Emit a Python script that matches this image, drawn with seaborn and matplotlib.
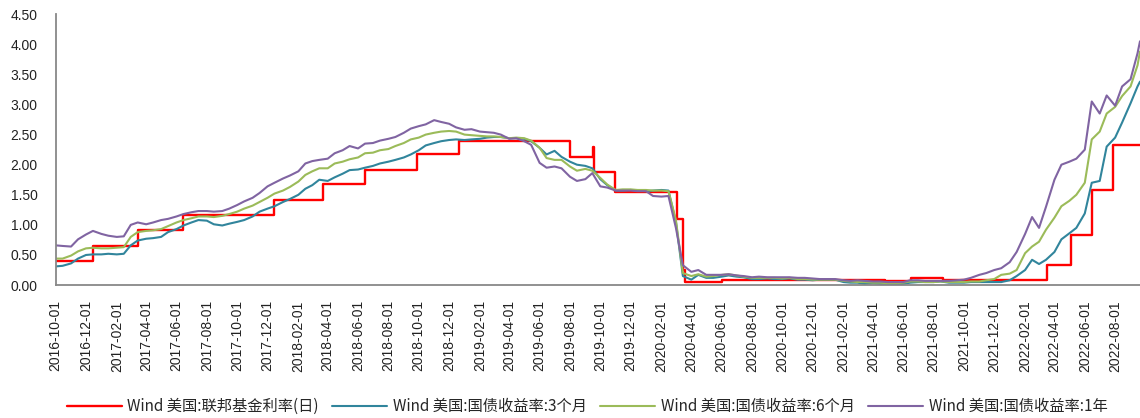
import matplotlib
matplotlib.use("Agg")
import matplotlib.pyplot as plt
import matplotlib.dates as mdates
import matplotlib.ticker as mticker
import numpy as np
import pandas as pd
import seaborn as sns

# semi-monthly observation dates (1st and 15th), plus the last print
dates = pd.date_range("2016-10-01", "2022-09-15", freq="SMS").append(
    pd.DatetimeIndex(["2022-09-20"]))

# 美国国债收益率:3个月
tsy_3m = [
    # 2016 Oct-Dec
    0.31, 0.32, 0.36, 0.44, 0.50, 0.51,
    # 2017
    0.51, 0.52, 0.51, 0.52, 0.66, 0.74, 0.77, 0.78, 0.80, 0.88, 0.93, 0.99,
    1.04, 1.08, 1.07, 1.01, 0.99, 1.02, 1.05, 1.08, 1.14, 1.22, 1.27, 1.31,
    # 2018
    1.38, 1.43, 1.50, 1.60, 1.66, 1.75, 1.73, 1.79, 1.85, 1.91, 1.92, 1.95,
    1.98, 2.02, 2.05, 2.08, 2.12, 2.17, 2.24, 2.32, 2.36, 2.39, 2.41, 2.42,
    # 2019
    2.41, 2.42, 2.43, 2.45, 2.46, 2.46, 2.44, 2.44, 2.43, 2.39, 2.28, 2.17,
    2.23, 2.13, 2.05, 2.00, 1.98, 1.94, 1.76, 1.66, 1.57, 1.57, 1.58, 1.57,
    # 2020
    1.56, 1.57, 1.58, 1.57, 1.05, 0.15, 0.09, 0.17, 0.12, 0.12, 0.14, 0.16,
    0.14, 0.13, 0.10, 0.10, 0.11, 0.10, 0.10, 0.11, 0.09, 0.09, 0.08, 0.09,
    # 2021
    0.09, 0.09, 0.05, 0.04, 0.04, 0.02, 0.03, 0.02, 0.02, 0.01, 0.02, 0.04,
    0.05, 0.05, 0.05, 0.06, 0.04, 0.04, 0.04, 0.05, 0.05, 0.05, 0.05, 0.05,
    # 2022 Jan-Sep
    0.08, 0.15, 0.25, 0.42, 0.35, 0.42, 0.55, 0.76, 0.86, 0.95, 1.19, 1.70,
    1.73, 2.30, 2.45, 2.70, 3.02, 3.30, 3.38,
]

# 美国国债收益率:6个月
tsy_6m = [
    0.44, 0.44, 0.49, 0.56, 0.61, 0.62,
    0.61, 0.61, 0.62, 0.63, 0.80, 0.88, 0.90, 0.91, 0.93, 0.98, 1.04, 1.08,
    1.11, 1.14, 1.14, 1.13, 1.15, 1.18, 1.22, 1.27, 1.32, 1.38, 1.45, 1.52,
    1.57, 1.63, 1.72, 1.83, 1.89, 1.94, 1.94, 2.02, 2.05, 2.09, 2.12, 2.19,
    2.20, 2.24, 2.26, 2.31, 2.36, 2.42, 2.45, 2.50, 2.53, 2.55, 2.56, 2.55,
    2.50, 2.49, 2.48, 2.47, 2.47, 2.46, 2.44, 2.45, 2.44, 2.40, 2.28, 2.11,
    2.08, 2.08, 1.97, 1.90, 1.93, 1.90, 1.78, 1.67, 1.58, 1.59, 1.59, 1.58,
    1.58, 1.57, 1.57, 1.56, 1.08, 0.20, 0.15, 0.18, 0.14, 0.15, 0.17, 0.18,
    0.16, 0.14, 0.12, 0.12, 0.12, 0.12, 0.11, 0.12, 0.10, 0.10, 0.09, 0.09,
    0.09, 0.09, 0.07, 0.06, 0.05, 0.05, 0.04, 0.04, 0.03, 0.03, 0.04, 0.06,
    0.06, 0.05, 0.05, 0.06, 0.05, 0.05, 0.05, 0.06, 0.06, 0.08, 0.10, 0.17,
    0.19, 0.25, 0.53, 0.64, 0.72, 0.92, 1.12, 1.31, 1.40, 1.50, 1.70, 2.42,
    2.55, 2.85, 2.96, 3.14, 3.30, 3.65, 3.88,
]

# 美国国债收益率:1年
tsy_1y = [
    0.66, 0.65, 0.64, 0.76, 0.84, 0.90,
    0.85, 0.82, 0.80, 0.81, 1.00, 1.04, 1.01, 1.04, 1.08, 1.10, 1.14, 1.18,
    1.21, 1.23, 1.23, 1.22, 1.23, 1.27, 1.33, 1.39, 1.45, 1.53, 1.64, 1.70,
    1.77, 1.82, 1.89, 2.02, 2.06, 2.08, 2.10, 2.19, 2.24, 2.31, 2.27, 2.35,
    2.36, 2.40, 2.43, 2.46, 2.53, 2.60, 2.64, 2.67, 2.74, 2.71, 2.68, 2.62,
    2.58, 2.59, 2.55, 2.54, 2.53, 2.50, 2.43, 2.44, 2.39, 2.33, 2.03, 1.95,
    1.97, 1.94, 1.80, 1.73, 1.76, 1.86, 1.64, 1.62, 1.57, 1.57, 1.57, 1.56,
    1.56, 1.48, 1.47, 1.48, 0.95, 0.33, 0.22, 0.25, 0.17, 0.17, 0.17, 0.18,
    0.16, 0.15, 0.13, 0.14, 0.13, 0.13, 0.13, 0.13, 0.12, 0.12, 0.11, 0.10,
    0.10, 0.10, 0.08, 0.07, 0.08, 0.07, 0.06, 0.06, 0.05, 0.05, 0.05, 0.08,
    0.08, 0.07, 0.07, 0.07, 0.07, 0.08, 0.09, 0.12, 0.17, 0.20, 0.25, 0.28,
    0.38, 0.55, 0.85, 1.13, 0.95, 1.30, 1.75, 2.00, 2.05, 2.10, 2.25, 3.05,
    2.85, 3.15, 2.98, 3.30, 3.42, 3.85, 4.05,
]

# 联邦基金利率(日): step changes
ffr_dates = pd.to_datetime([
    "2016-10-01", "2016-12-15", "2017-03-16", "2017-06-15", "2017-12-14",
    "2018-03-22", "2018-06-14", "2018-09-27", "2018-12-20", "2019-08-01",
    "2019-09-17", "2019-09-19", "2019-10-31", "2020-03-04", "2020-03-16",
    "2020-03-20", "2020-06-01", "2021-02-01", "2021-04-25", "2021-06-17",
    "2021-08-19", "2022-03-17", "2022-05-05", "2022-06-16", "2022-07-28",
    "2022-09-20",
])
ffr = [
    0.40, 0.65, 0.91, 1.16, 1.42,
    1.68, 1.91, 2.18, 2.40, 2.13,
    2.30, 1.88, 1.55, 1.10, 0.25,
    0.05, 0.09, 0.08, 0.06, 0.11,
    0.08, 0.33, 0.83, 1.58, 2.33,
    2.33,
]

labels = [
    "Wind 美国:联邦基金利率(日)",
    "Wind 美国:国债收益率:3个月",
    "Wind 美国:国债收益率:6个月",
    "Wind 美国:国债收益率:1年",
]
colors = ["#FF0000", "#31859C", "#9BBB59", "#8064A2"]

sns.set_style("white")
plt.rcParams["font.family"] = ["Liberation Sans", "Noto Sans CJK SC"]

tsy = pd.DataFrame({
    "date": np.tile(dates, 3),
    "value": tsy_3m + tsy_6m + tsy_1y,
    "series": np.repeat(labels[1:], len(dates)),
})
fed = pd.DataFrame({"date": ffr_dates, "value": ffr})

fig = plt.figure(figsize=(11.4, 4.18), dpi=100)
ax = fig.add_axes([0.0488, 0.318, 0.9512, 0.648])

sns.lineplot(data=fed, x="date", y="value", ax=ax, color=colors[0],
             drawstyle="steps-post", linewidth=1.7, label=labels[0])
sns.lineplot(data=tsy, x="date", y="value", hue="series", hue_order=labels[1:],
             palette=colors[1:], estimator=None, linewidth=1.5, ax=ax)

ax.set_xlim(pd.Timestamp("2016-10-01"), pd.Timestamp("2022-09-20"))
ax.set_ylim(0, 4.5)
ax.yaxis.set_major_locator(mticker.MultipleLocator(0.5))
ax.yaxis.set_major_formatter(mticker.FormatStrFormatter("%.2f"))
ax.xaxis.set_major_locator(mdates.MonthLocator(bymonth=[2, 4, 6, 8, 10, 12], bymonthday=1))
ax.xaxis.set_major_formatter(mdates.DateFormatter("%Y-%m-%d"))
plt.setp(ax.get_xticklabels(), rotation=90)

ax.set_xlabel("")
ax.set_ylabel("")
for side in ("top", "right"):
    ax.spines[side].set_visible(False)
for side in ("left", "bottom"):
    ax.spines[side].set_color("#888888")
    ax.spines[side].set_linewidth(1.3)
ax.tick_params(axis="both", colors="#888888", labelcolor="#222222",
               labelsize=10, length=4, width=1.3, direction="out")
ax.tick_params(axis="y", pad=9)
ax.tick_params(axis="x", pad=7)
ax.grid(False)

ax.get_legend().remove()
handles, _ = ax.get_legend_handles_labels()
fig.legend(handles[:4], labels, loc="center", bbox_to_anchor=(0.515, 0.027),
           ncol=4, frameon=False, handlelength=3.6, handletextpad=0.35,
           columnspacing=0.9,
           prop={"family": ["Noto Sans CJK SC", "DejaVu Sans"], "size": 11})

fig.savefig("out.png", dpi=100)
